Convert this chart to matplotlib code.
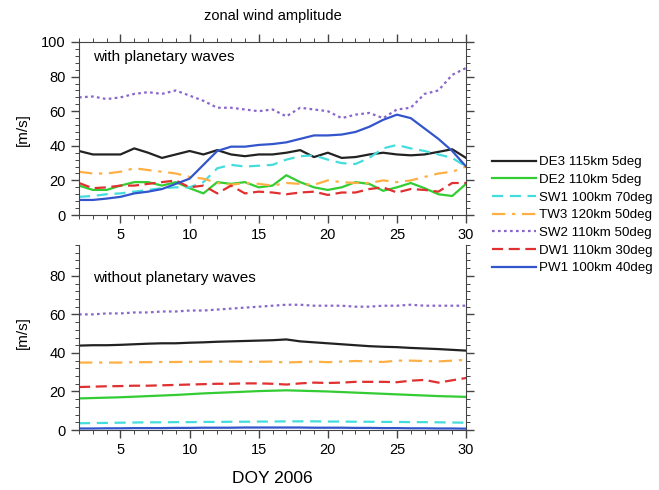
import matplotlib
matplotlib.use("Agg")
import matplotlib.pyplot as plt
from matplotlib.ticker import MultipleLocator

plt.rcParams['font.family'] = ['Liberation Sans', 'DejaVu Sans']

days = list(range(2, 31))

# with planetary waves
de3_pw = [37, 35, 35, 35, 38.5, 36, 33, 35, 37, 35, 37.5, 35, 34, 35, 35, 36, 37.5, 33.5, 36, 33, 33.5, 35, 36, 35, 34.5, 35, 36.5, 38, 33]
de2_pw = [17, 14.5, 14.5, 17, 19, 19, 17, 19, 15.5, 12.5, 19, 18, 19, 16, 17, 23, 19, 16, 14.5, 16, 19, 18, 14, 16, 18.5, 15.5, 12, 11, 18]
sw1_pw = [10.5, 11, 12, 12.5, 13.5, 14.5, 15.5, 16, 16, 19, 27, 29, 28, 28.5, 29, 32, 34, 34.5, 32, 30, 29.5, 33, 38.5, 40.5, 38.5, 37, 35, 33, 28]
tw3_pw = [25, 24, 24, 25, 27, 26, 25, 24, 22, 21, 18.5, 17.5, 18.5, 18, 17, 18.5, 18, 17.5, 20, 19, 18.5, 18.5, 20, 19, 20, 22, 24, 25, 28]
sw2_pw = [68, 68.5, 67, 68, 70, 71, 70, 72, 69, 66, 62, 62, 61, 60, 61, 57, 62, 61, 60, 56, 58, 59, 56, 61, 62, 70, 72, 81, 85]
dw1_pw = [18.5, 15.5, 16, 17, 17, 18, 19, 20, 16, 17, 12.5, 17, 12.5, 13.5, 13, 12, 13, 13.5, 11.6, 13, 13, 15, 16, 13, 15, 14.5, 13.5, 18.5, 18.5]
pw1_pw = [8.7, 8.7, 9.5, 10.5, 12.5, 13.5, 15, 18, 21, 29, 37, 39.5, 39.5, 40.5, 41, 42, 44, 46, 46, 46.5, 48, 51, 55, 58, 56, 50, 44, 37, 28]

# without planetary waves
de3_no = [43.8, 44, 44, 44.2, 44.5, 44.8, 45, 45, 45.3, 45.5, 45.8, 46, 46.2, 46.4, 46.6, 47, 46, 45.5, 45, 44.5, 44, 43.5, 43.2, 43, 42.6, 42.3, 42, 41.6, 41.2]
de2_no = [16.4, 16.6, 16.8, 17, 17.3, 17.6, 17.9, 18.2, 18.6, 19, 19.3, 19.6, 19.9, 20.2, 20.4, 20.6, 20.4, 20.2, 20, 19.7, 19.4, 19.1, 18.8, 18.5, 18.2, 17.9, 17.6, 17.4, 17.2]
sw1_no = [3.5, 3.6, 3.7, 3.8, 3.9, 4, 4, 4.1, 4.1, 4.2, 4.2, 4.3, 4.3, 4.4, 4.4, 4.5, 4.5, 4.5, 4.4, 4.4, 4.3, 4.3, 4.2, 4.2, 4.1, 4.1, 4, 3.9, 3.8]
tw3_no = [35, 35, 35, 35, 35.2, 35.2, 35.3, 35.3, 35.4, 35.4, 35.5, 35.5, 35.4, 35.4, 35.5, 35, 35.3, 35.5, 35.2, 35.5, 35.8, 35.6, 35.3, 36, 36, 35.8, 35.6, 36, 36.4]
sw2_no = [60, 60, 60.5, 60.5, 61, 61, 61.5, 61.5, 62, 62, 62.5, 63, 63.5, 64, 64.5, 65, 65, 64.5, 64.5, 64.5, 64, 64, 64.5, 64.5, 65, 64.5, 64.5, 64.5, 64.5]
dw1_no = [22.3, 22.5, 22.7, 22.8, 23, 23, 23.2, 23.4, 23.6, 23.8, 24, 24, 24.2, 24.2, 24, 23.6, 24.2, 24.6, 24.4, 24.6, 25, 25, 25, 24.8, 25.6, 26, 24.6, 25.8, 27]
pw1_no = [0.8, 0.8, 0.9, 0.9, 1, 1, 1, 1.1, 1.1, 1.2, 1.2, 1.2, 1.3, 1.3, 1.3, 1.3, 1.3, 1.2, 1.2, 1.2, 1.1, 1.1, 1, 1, 0.9, 0.9, 0.8, 0.8, 0.7]

labels = ["DE3 115km 5deg", "DE2 110km 5deg", "SW1 100km 70deg", "TW3 120km 50deg",
          "SW2 110km 50deg", "DW1 110km 30deg", "PW1 100km 40deg"]
colors = ["#222222", "#33cc33", "#44dddd", "#ffb044", "#8866cc", "#e03030", "#3355cc"]
styles = ["-", "-", (0, (5, 3)), (0, (6, 3, 1.5, 3)), (0, (1.2, 1.5)), (0, (5, 2.5)), "-"]

fig = plt.figure(figsize=(6.59, 4.9), dpi=100)
ax1 = fig.add_axes([0.1199, 0.5612, 0.5873, 0.3531])
ax2 = fig.add_axes([0.1199, 0.1224, 0.5873, 0.3776])

series_pw = [de3_pw, de2_pw, sw1_pw, tw3_pw, sw2_pw, dw1_pw, pw1_pw]
series_no = [de3_no, de2_no, sw1_no, tw3_no, sw2_no, dw1_no, pw1_no]

handles = []
for s, c, ls, lab in zip(series_pw, colors, styles, labels):
    h, = ax1.plot(days, s, color=c, linestyle=ls, lw=1.6, label=lab)
    handles.append(h)
for s, c, ls in zip(series_no, colors, styles):
    ax2.plot(days, s, color=c, linestyle=ls, lw=1.6)

for ax in (ax1, ax2):
    ax.set_xlim(2, 30)
    ax.xaxis.set_major_locator(MultipleLocator(5))
    ax.xaxis.set_minor_locator(MultipleLocator(1))
    ax.yaxis.set_major_locator(MultipleLocator(20))
    ax.yaxis.set_minor_locator(MultipleLocator(4))
    ax.tick_params(which='both', direction='out', right=True, labelsize=10.5, color='#444444')
    ax.tick_params(which='major', length=6, width=1)
    ax.tick_params(which='minor', length=3, width=0.7)
    for sp in ax.spines.values():
        sp.set_color('#444444')

ax1.set_ylim(0, 100)
ax1.tick_params(which='both', top=True)
ax2.set_ylim(0, 96)
ax2.spines['top'].set_visible(False)

ax1.text(0.035, 0.915, "with planetary waves", transform=ax1.transAxes, fontsize=11, va='center')
ax2.text(0.035, 0.82, "without planetary waves", transform=ax2.transAxes, fontsize=11, va='center')

fig.text(272.5 / 659, 1 - 16 / 490, "zonal wind amplitude", ha='center', va='center', fontsize=10.5)
fig.text(23 / 659, 1 - 130 / 490, "[m/s]", rotation=90, ha='center', va='center', fontsize=11)
fig.text(23 / 659, 1 - 333 / 490, "[m/s]", rotation=90, ha='center', va='center', fontsize=11)
fig.text(272.5 / 659, 1 - 478 / 490, "DOY 2006", ha='center', va='center', fontsize=12.5)

fig.legend(handles, labels, loc='upper left', bbox_to_anchor=(492 / 659, 1 - 156 / 490),
           frameon=False, fontsize=9.6, handlelength=3.3, handletextpad=0.2,
           labelspacing=0.4, borderpad=0, borderaxespad=0)

fig.savefig("out.png", dpi=100)
